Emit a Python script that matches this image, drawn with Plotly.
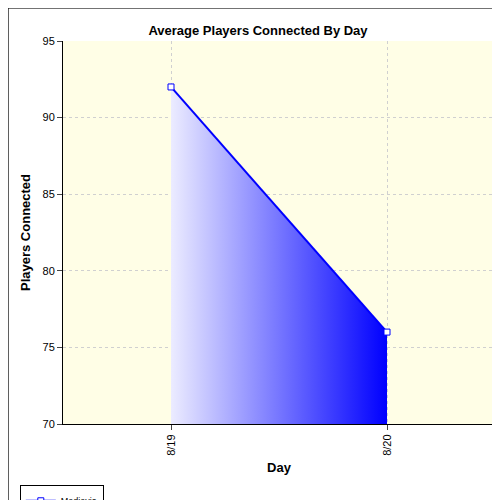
import plotly.graph_objects as go

days = ["8/19", "8/20"]
players = [92, 76]

fig = go.Figure()
fig.add_trace(go.Scatter(
    x=days, y=players, name="Medievia", mode="lines+markers",
    line=dict(color="#0000ff", width=2),
    marker=dict(symbol="square", size=6, color="white", line=dict(color="#0000ff", width=1)),
    fill="tozeroy",
    fillgradient=dict(type="horizontal", colorscale=[[0, "#ececff"], [1, "#0000ff"]]),
))

fig.update_layout(
    width=500, height=500,
    paper_bgcolor="white", plot_bgcolor="#fffee6",
    margin=dict(l=55, r=13, t=33, b=84, autoexpand=False),
    title=dict(text="<b>Average Players Connected By Day</b>", x=0.5, y=0.965,
               font=dict(family="Arial", size=13, color="black")),
    font=dict(family="Arial", size=11, color="black"),
    xaxis=dict(title=dict(text="<b>Day</b>", standoff=8), range=[-0.5, 1.5], tickangle=-90,
               showgrid=True, gridcolor="#d0d0d0", griddash="dot", automargin=False,
               showline=True, linecolor="black", ticks="outside"),
    yaxis=dict(title=dict(text="<b>Players Connected</b>", standoff=8), range=[70, 95], dtick=5,
               showgrid=True, gridcolor="#d0d0d0", griddash="dot", automargin=False,
               showline=True, linecolor="black", ticks="outside"),
    legend=dict(x=-0.1, y=-0.16, xanchor="left", yanchor="top", bgcolor="white",
                bordercolor="black", borderwidth=1, font=dict(size=9),
                itemwidth=30, tracegroupgap=0),
    showlegend=True,
    shapes=[dict(type="rect", xref="paper", yref="paper", x0=-0.127, x1=1.028, y0=-0.217, y1=1.086,
                 line=dict(color="black", width=1))],
)

fig.write_html("out.html")
